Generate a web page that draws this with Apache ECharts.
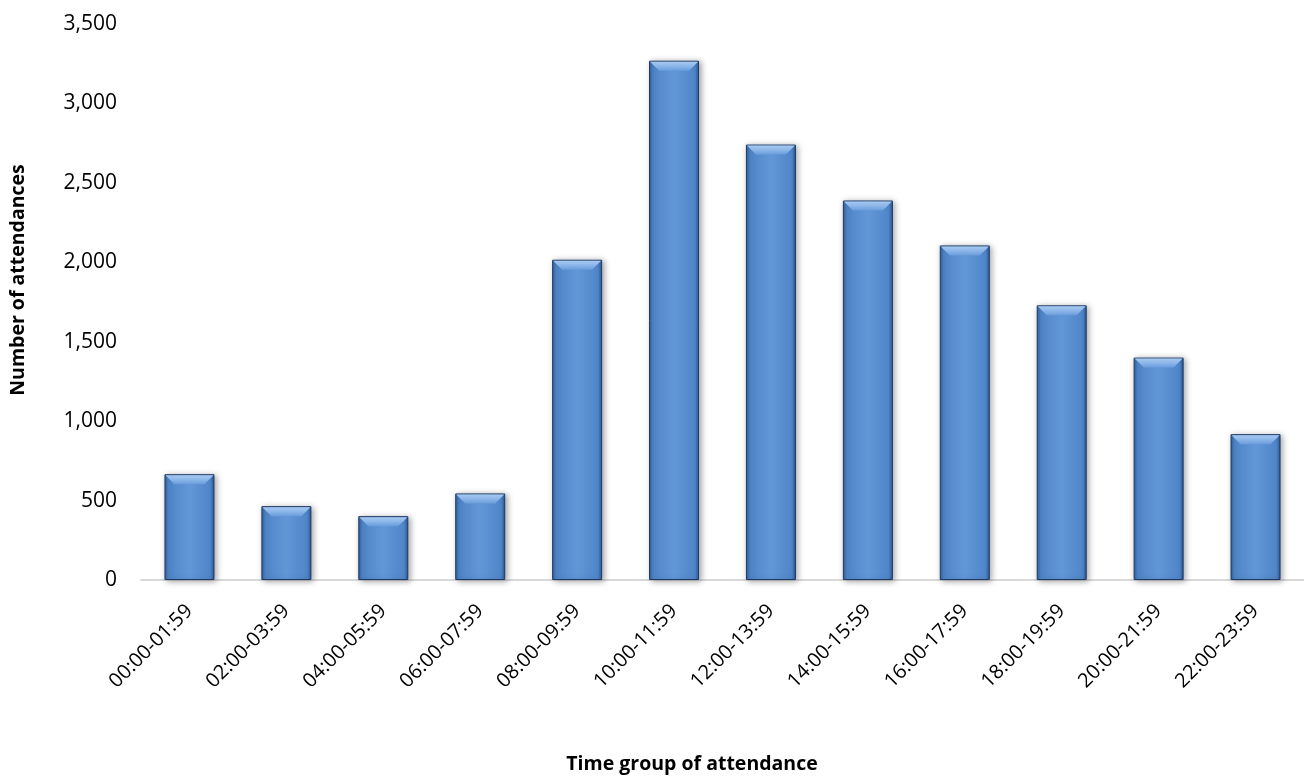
<!DOCTYPE html>
<html>
<head>
<meta charset="utf-8">
<script src="https://cdn.jsdelivr.net/npm/echarts@6/dist/echarts.min.js"></script>
<style>
html,body{margin:0;padding:0;background:#fff;}
#chart{width:1304px;height:776px;}
</style>
</head>
<body>
<div id="chart"></div>
<script>
const categories = ["00:00-01:59","02:00-03:59","04:00-05:59","06:00-07:59","08:00-09:59","10:00-11:59","12:00-13:59","14:00-15:59","16:00-17:59","18:00-19:59","20:00-21:59","22:00-23:59"];
const attendances = [666, 465, 402, 545, 2016, 3269, 2741, 2389, 2106, 1729, 1400, 918];
const xTitle = "Time group of attendance";
const yTitle = "Number of attendances";
const yMin = 0, yMax = 3500, yStep = 500;

const FONT = "Open Sans";
const BAR_W = 50;
const chart = echarts.init(document.getElementById('chart'), null, {renderer:'canvas'});
chart.setOption({
  animation: false,
  backgroundColor: '#ffffff',
  grid: { left: 141, top: 24, width: 1166, bottom: 196, containLabel: false },
  xAxis: {
    type: 'category',
    data: categories,
    axisLine: { show: true, lineStyle: { color: '#d9d9d9', width: 2 } },
    axisTick: { show: false },
    axisLabel: { rotate: 45, interval: 0, margin: 28, fontFamily: FONT, fontSize: 20, color: '#000' }
  },
  yAxis: {
    type: 'value',
    min: yMin, max: yMax, interval: yStep,
    axisLine: { show: false },
    axisTick: { show: false },
    splitLine: { show: false },
    axisLabel: {
      margin: 24, fontFamily: FONT, fontSize: 21, color: '#000',
      formatter: v => v.toLocaleString('en-US')
    }
  },
  graphic: [
    { type: 'text', x: 692, y: 764, style: { text: xTitle, font: 'bold 19.5px "Open Sans"', fill: '#000', align: 'center', verticalAlign: 'middle' } },
    { type: 'text', x: 18, y: 280, rotation: Math.PI/2, style: { text: yTitle, font: 'bold 19.5px "Open Sans"', fill: '#000', align: 'center', verticalAlign: 'middle' } }
  ],
  series: [{
    type: 'bar',
    data: attendances,
    barWidth: BAR_W,
    z: 2,
    itemStyle: {
      color: new echarts.graphic.LinearGradient(0,0,1,0,[
        {offset:0, color:'#2f5e9c'},
        {offset:0.08, color:'#4f86c9'},
        {offset:0.5, color:'#6297d7'},
        {offset:0.92, color:'#4f86c9'},
        {offset:1, color:'#2a5590'}
      ]),
      borderColor: '#1f3a66',
      borderWidth: 1,
      shadowBlur: 6,
      shadowColor: 'rgba(0,0,0,0.35)',
      shadowOffsetX: 2,
      shadowOffsetY: 1
    }
  }, {
    type: 'custom',
    z: 3,
    silent: true,
    data: attendances.map((v, i) => [i, v]),
    renderItem: function (params, api) {
      const top = api.coord([api.value(0), api.value(1)]);
      const l = top[0] - BAR_W / 2 + 1, r = top[0] + BAR_W / 2 - 1, t = top[1] + 1;
      const d = 9;
      return {
        type: 'polygon',
        shape: { points: [[l, t], [r, t], [r - d, t + d], [l + d, t + d]] },
        style: {
          fill: new echarts.graphic.LinearGradient(0,0,0,1,[
            {offset:0, color:'#a8c8ee'},
            {offset:0.5, color:'#8bb6ea'},
            {offset:1, color:'#6a9cdb'}
          ])
        }
      };
    }
  }]
});
</script>
</body>
</html>
